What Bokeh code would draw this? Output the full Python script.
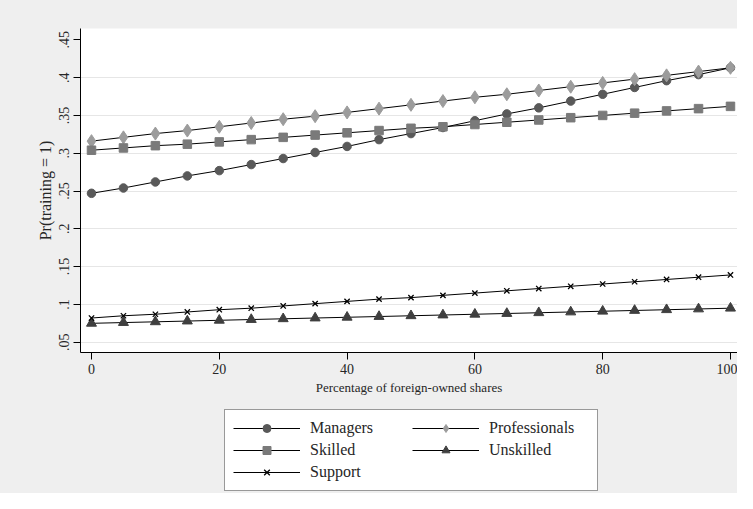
from bokeh.plotting import figure
from bokeh.models import Range1d, FixedTicker, Legend, LegendItem
from bokeh.layouts import column
from bokeh.embed import file_html
from bokeh.resources import INLINE

share = [0, 5, 10, 15, 20, 25, 30, 35, 40, 45, 50, 55, 60, 65, 70, 75, 80, 85, 90, 95, 100]
managers = [0.247, 0.254, 0.262, 0.270, 0.277, 0.285, 0.293, 0.301, 0.309, 0.318, 0.326,
            0.334, 0.343, 0.352, 0.360, 0.369, 0.378, 0.387, 0.396, 0.404, 0.413]
professionals = [0.316, 0.321, 0.326, 0.330, 0.335, 0.340, 0.345, 0.349, 0.354, 0.359, 0.364,
                 0.369, 0.374, 0.378, 0.383, 0.388, 0.393, 0.398, 0.403, 0.408, 0.413]
skilled = [0.304, 0.307, 0.310, 0.312, 0.315, 0.318, 0.321, 0.324, 0.327, 0.330, 0.333,
           0.335, 0.338, 0.341, 0.344, 0.347, 0.350, 0.353, 0.356, 0.359, 0.362]
unskilled = [0.075, 0.076, 0.077, 0.078, 0.079, 0.080, 0.081, 0.082, 0.083, 0.084, 0.085,
             0.086, 0.087, 0.088, 0.089, 0.090, 0.091, 0.092, 0.093, 0.094, 0.095]
support = [0.082, 0.085, 0.087, 0.090, 0.093, 0.095, 0.098, 0.101, 0.104, 0.107, 0.109,
           0.112, 0.115, 0.118, 0.121, 0.124, 0.127, 0.130, 0.133, 0.136, 0.139]

ytick_vals = [0.05, 0.1, 0.15, 0.2, 0.25, 0.3, 0.35, 0.4, 0.45]
ytick_labels = [".05", ".1", ".15", ".2", ".25", ".3", ".35", ".4", ".45"]
ygrid_vals = [0.05, 0.1, 0.15, 0.2, 0.25, 0.3, 0.35, 0.4]
xtick_vals = [0, 20, 40, 60, 80, 100]

FONT = "Liberation Serif"
TXT = "#262626"
BG = "#efefef"

p = figure(width=737, height=400, output_backend="svg", toolbar_location=None,
           x_range=Range1d(-1.72, 101.1), y_range=Range1d(0.0364, 0.465),
           min_border_left=80, min_border_right=0, min_border_top=28, min_border_bottom=48)
p.background_fill_color = "white"
p.border_fill_color = BG
p.outline_line_color = None

p.xgrid.grid_line_color = None
p.ygrid.ticker = FixedTicker(ticks=ygrid_vals)
p.ygrid.grid_line_color = "#e6e6e6"
p.ygrid.grid_line_width = 1

p.yaxis.ticker = FixedTicker(ticks=ytick_vals)
p.yaxis.major_label_overrides = {v: l for v, l in zip(ytick_vals, ytick_labels)}
p.yaxis.major_label_orientation = "vertical"
p.xaxis.ticker = FixedTicker(ticks=xtick_vals)
p.yaxis.axis_label = "Pr(training = 1)"
p.xaxis.axis_label = "Percentage of foreign-owned shares"

for ax in (p.xaxis, p.yaxis):
    ax.axis_line_color = "black"
    ax.major_tick_line_color = "black"
    ax.minor_tick_line_color = None
    ax.major_tick_out = 7
    ax.major_tick_in = 0
    ax.major_label_text_font = FONT
    ax.major_label_text_font_size = "14px"
    ax.major_label_text_color = TXT
    ax.axis_label_text_font = FONT
    ax.axis_label_text_color = TXT
    ax.axis_label_text_font_style = "normal"
    ax.major_label_standoff = 4
    ax.axis_label_standoff = 3
p.xaxis.axis_label_text_font_size = "13px"
p.yaxis.axis_label_text_font_size = "16px"

series = [
    ("Managers", managers, "circle", 8.5, "#595959"),
    ("Professionals", professionals, "diamond", 13, "#9c9c9c"),
    ("Skilled", skilled, "square", 8.5, "#7a7a7a"),
    ("Unskilled", unskilled, "triangle", 10, "#3f3f3f"),
    ("Support", support, "x", 7.5, "black"),
]

# legend lives in a second, axis-less strip under the chart; its sample
# renderers use the first data point but sit outside this strip's ranges
leg = figure(width=737, height=93, output_backend="svg", toolbar_location=None,
             x_range=Range1d(-1000, -999), y_range=Range1d(-1000, -999),
             x_axis_type=None, y_axis_type=None,
             min_border_left=0, min_border_right=0, min_border_top=0, min_border_bottom=0)
leg.background_fill_color = BG
leg.border_fill_color = BG
leg.outline_line_color = None
leg.xgrid.grid_line_color = None
leg.ygrid.grid_line_color = None

items = []
for name, vals, marker, size, color in series:
    p.line(share, vals, line_color="black", line_width=1)
    p.scatter(share, vals, marker=marker, size=size, fill_color=color,
              line_color=color, line_width=1.3 if marker == "x" else 1)
    ln = leg.line(share[:1], vals[:1], line_color="black", line_width=1)
    sc = leg.scatter(share[:1], vals[:1], marker=marker, size=size, fill_color=color,
                     line_color=color, line_width=1.3 if marker == "x" else 1)
    items.append(LegendItem(label=name, renderers=[ln, sc]))

legend = Legend(items=items, orientation="horizontal", ncols=2, location=(144, 2))
legend.label_text_font = "'Liberation Serif', serif"
legend.label_text_font_size = "16px"
legend.label_text_color = TXT
legend.glyph_width = 67
legend.glyph_height = 20
legend.label_height = 20
legend.label_width = 100
legend.label_standoff = 10
legend.spacing = 2
legend.padding = 8
legend.margin = 0
legend.border_line_color = "#333333"
legend.border_line_width = 1.5
legend.background_fill_color = "white"
legend.background_fill_alpha = 1
leg.add_layout(legend, "center")

layout = column(p, leg, spacing=0)
layout.styles = {"background-color": BG}
open("out.html", "w").write(file_html(layout, INLINE))
